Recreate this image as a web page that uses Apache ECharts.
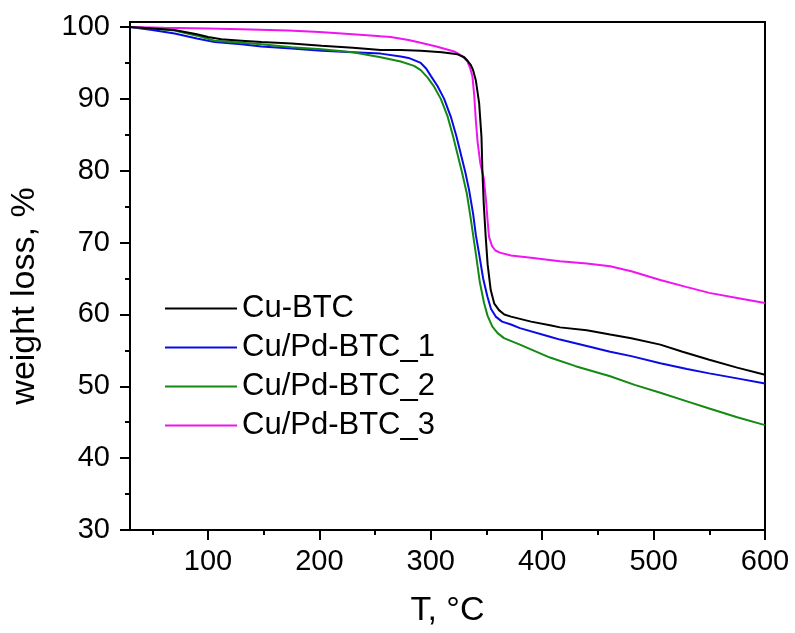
<!DOCTYPE html>
<html><head><meta charset="utf-8">
<script src="https://cdn.jsdelivr.net/npm/echarts@6/dist/echarts.min.js"></script>
<style>html,body{margin:0;padding:0;background:#fff}#c{width:795px;height:633px}</style>
</head><body><div id="c"></div>
<script>
const seriesNames = ['Cu-BTC', 'Cu/Pd-BTC_1', 'Cu/Pd-BTC_2', 'Cu/Pd-BTC_3'];
const xTickLabels = [100, 200, 300, 400, 500, 600];
const xMinorTicks = [50, 150, 250, 350, 450, 550];
const yTickLabels = [30, 40, 50, 60, 70, 80, 90, 100];
const yMinorTicks = [35, 45, 55, 65, 75, 85, 95];

const cuBTC_T = [30,50,70,90,100,112,130,148,175,202,230,255,273,291,310,324,330,333,336,338,340.4,343.4,345.5,346.3,347.5,349.3,351,353.8,357,361.2,366,372,390,407,416,440,461,480,506,526,550,575,600];
const cuBTC_W = [100,99.8,99.6,99.0,98.6,98.3,98.1,97.9,97.7,97.4,97.1,96.8,96.8,96.7,96.5,96.2,95.8,95.3,94.7,94.0,92.6,89.4,84.7,80.1,75.5,70.8,67.0,63.4,61.5,60.6,60.0,59.7,59.0,58.5,58.2,57.8,57.2,56.7,55.8,54.8,53.7,52.6,51.6];

const pd1_T = [30,50,70,90,106,130,148,175,202,230,255,273,280,285,291,296,300,306,312,318,323,327,331,334.4,338,340.5,343.3,347,350.8,354,358.3,364,372,380,407,416,440,461,480,506,530,550,575,600];
const pd1_W = [100,99.6,99.1,98.4,97.9,97.6,97.3,97.0,96.7,96.5,96.3,95.9,95.7,95.4,95.0,94.2,93.2,91.8,90.0,87.5,84.8,82.3,79.8,77.3,74.0,71.0,68.5,65.0,62.5,60.8,59.7,59.0,58.6,58.1,56.9,56.5,55.6,54.8,54.2,53.2,52.4,51.8,51.1,50.4];

const pd2_T = [30,50,70,90,106,130,148,175,202,230,255,273,285,291,297,303,309,315,320,324,328,332.4,336,340.4,344,347.8,351,355.3,360,365.7,380,407,430,461,483,506,530,550,575,600];
const pd2_W = [100,99.8,99.5,98.8,98.1,97.8,97.6,97.2,96.9,96.5,95.8,95.2,94.6,94.0,93.0,91.7,90.0,87.6,84.8,82.3,79.8,76.8,73.2,68.5,64.5,61.6,59.8,58.3,57.4,56.7,55.8,54.0,52.8,51.4,50.2,49.1,47.9,46.9,45.7,44.6];

const pd3_T = [30,60,100,130,172,200,230,255,264,280,291,305,321,328,333,335.5,337.4,339,340.4,342,344.5,347.5,349.5,351,352.3,355,358,362,372,390,416,440,461,480,506,530,550,575,600];
const pd3_W = [100,99.9,99.8,99.7,99.5,99.3,99.0,98.7,98.6,98.2,97.8,97.3,96.6,96.0,95.2,94.2,93.1,90.5,87.1,84.0,81.0,79.0,76.0,73.0,70.8,69.5,68.9,68.6,68.2,67.9,67.4,67.1,66.7,66.0,64.8,63.8,63.0,62.3,61.6];

const colors = ['#000000', '#0a0ae6', '#138a13', '#f014f0'];
const zip = (a, b) => a.map((v, i) => [v, b[i]]);
const seriesData = [zip(cuBTC_T, cuBTC_W), zip(pd1_T, pd1_W), zip(pd2_T, pd2_W), zip(pd3_T, pd3_W)];

const FONT = '"Liberation Sans", Arial, sans-serif';
const chart = echarts.init(document.getElementById('c'), null, {renderer: 'canvas'});
chart.setOption({
  animation: false,
  backgroundColor: '#fff',
  grid: {left: 128, right: 30, top: 22, bottom: 100, show: true, borderColor: '#000', borderWidth: 2, backgroundColor: 'transparent'},
  legend: {
    orient: 'vertical', left: 160, top: 288,
    icon: 'rect', itemWidth: 72, itemHeight: 2, itemGap: 8,
    textStyle: {fontFamily: FONT, fontSize: 31, color: '#000', lineHeight: 31},
    data: seriesNames
  },
  xAxis: [{
    type: 'value', min: 30, max: 600,
    name: 'T, °C', nameLocation: 'middle', nameGap: 64,
    nameTextStyle: {fontFamily: FONT, fontSize: 34, color: '#000'},
    axisLine: {show: true, lineStyle: {color: '#000', width: 2}},
    axisTick: {show: true, customValues: xTickLabels, length: 10, lineStyle: {color: '#000', width: 2}},
    axisLabel: {customValues: xTickLabels, fontFamily: FONT, fontSize: 29, color: '#000', margin: 17},
    splitLine: {show: false}
  }, {
    type: 'value', min: 30, max: 600, position: 'bottom',
    axisLine: {show: false},
    axisTick: {show: true, customValues: xMinorTicks, length: 5, lineStyle: {color: '#000', width: 2}},
    axisLabel: {show: false},
    splitLine: {show: false}
  }],
  yAxis: [{
    type: 'value', min: 30, max: 100.7,
    name: 'weight loss, %', nameLocation: 'middle', nameGap: 88,
    nameTextStyle: {fontFamily: FONT, fontSize: 34, color: '#000', padding: [0, 40, 0, 0]},
    axisLine: {show: true, lineStyle: {color: '#000', width: 2}},
    axisTick: {show: true, customValues: yTickLabels, length: 10, lineStyle: {color: '#000', width: 2}},
    axisLabel: {customValues: yTickLabels, fontFamily: FONT, fontSize: 29, color: '#000', margin: 20},
    splitLine: {show: false}
  }, {
    type: 'value', min: 30, max: 100.7, position: 'left',
    axisLine: {show: false},
    axisTick: {show: true, customValues: yMinorTicks, length: 5, lineStyle: {color: '#000', width: 2}},
    axisLabel: {show: false},
    splitLine: {show: false}
  }],
  series: seriesNames.map((n, i) => ({
    name: n, type: 'line', data: seriesData[i], showSymbol: false, symbol: 'none',
    smooth: false,
    xAxisIndex: 0, yAxisIndex: 0,
    lineStyle: {color: colors[i], width: 2}, itemStyle: {color: colors[i]},
    z: i === 0 ? 5 : 3
  }))
});
</script></body></html>
